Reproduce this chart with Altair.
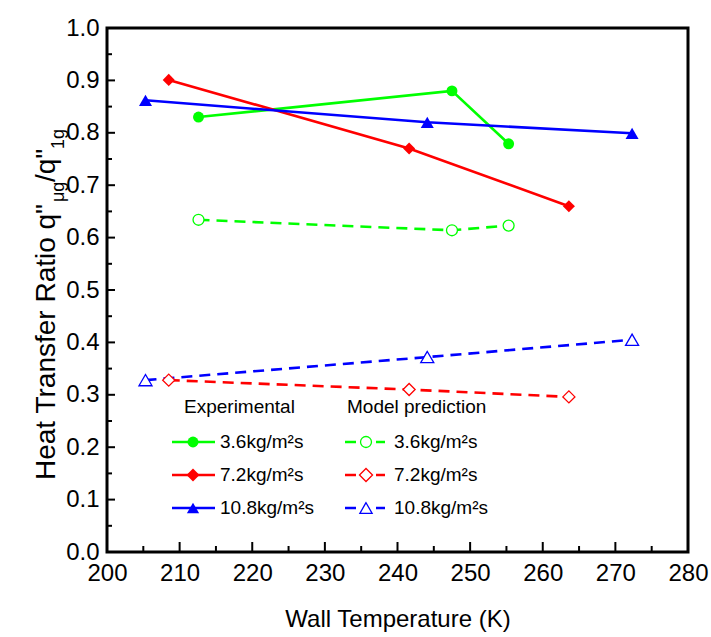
import altair as alt
import pandas as pd

# ---------------- data ----------------
series_names = ["3.6kg/m²s", "7.2kg/m²s", "10.8kg/m²s"]
series_colors = ["#00FF00", "#FF0000", "#0000FF"]
series_shapes = ["circle", "diamond", "triangle-up"]
series_sizes = [120, 170, 150]

temp_36 = [212.6, 247.5, 255.3]
temp_72 = [208.5, 241.6, 263.6]
temp_108 = [205.3, 244.1, 272.3]

exp_36 = [0.830, 0.880, 0.779]
exp_72 = [0.901, 0.770, 0.660]
exp_108 = [0.862, 0.820, 0.799]

mod_36 = [0.634, 0.614, 0.623]
mod_72 = [0.328, 0.310, 0.296]
mod_108 = [0.328, 0.372, 0.405]

x_ticks = [200, 210, 220, 230, 240, 250, 260, 270, 280]
x_minor = [205, 215, 225, 235, 245, 255, 265, 275]
y_ticks = [0.0, 0.1, 0.2, 0.3, 0.4, 0.5, 0.6, 0.7, 0.8, 0.9, 1.0]
y_minor = [0.05, 0.15, 0.25, 0.35, 0.45, 0.55, 0.65, 0.75, 0.85, 0.95]

rows = []
for name, temps, e, m in [
    (series_names[0], temp_36, exp_36, mod_36),
    (series_names[1], temp_72, exp_72, mod_72),
    (series_names[2], temp_108, exp_108, mod_108),
]:
    for t, ev, mv in zip(temps, e, m):
        rows.append({"series": name, "kind": "exp", "T": t, "R": ev})
        rows.append({"series": name, "kind": "mod", "T": t, "R": mv})
df = pd.DataFrame(rows)

FONT = "Liberation Sans, Arial, sans-serif"
W, H = 581, 524
PL, PT = 107, 28

x_scale = alt.Scale(domain=[200, 280], nice=False, zero=False)
y_scale = alt.Scale(domain=[0, 1], nice=False, zero=False)
color_scale = alt.Scale(domain=series_names, range=series_colors)
shape_scale = alt.Scale(domain=series_names, range=series_shapes)
size_scale = alt.Scale(domain=series_names, range=series_sizes)

x_axis = alt.Axis(values=x_ticks, format="d", title="Wall Temperature (K)",
                  titleFont=FONT, titleFontSize=24, titleFontWeight="normal",
                  titleColor="black", titlePadding=22,
                  labelFont=FONT, labelFontSize=24, labelColor="black",
                  labelPadding=9, labelFlush=False, ticks=False, tickSize=0,
                  domain=False, grid=False)
y_axis = alt.Axis(values=y_ticks, format=".1f", title=None,
                  labelFont=FONT, labelFontSize=24, labelColor="black",
                  labelPadding=8, labelFlush=False, ticks=False, tickSize=0,
                  domain=False, grid=False)

x_enc = alt.X("T:Q", scale=x_scale, axis=x_axis)
y_enc = alt.Y("R:Q", scale=y_scale, axis=y_axis)
color_enc = alt.Color("series:N", scale=color_scale, legend=None)
shape_enc = alt.Shape("series:N", scale=shape_scale, legend=None)
size_enc = alt.Size("series:N", scale=size_scale, legend=None)

base = alt.Chart(df)
exp_lines = base.transform_filter(alt.datum.kind == "exp").mark_line(strokeWidth=2.6).encode(
    x=x_enc, y=y_enc, color=color_enc, detail="series:N")
mod_lines = base.transform_filter(alt.datum.kind == "mod").mark_line(
    strokeWidth=2.6, strokeDash=[11, 7]).encode(
    x=x_enc, y=y_enc, color=color_enc, detail="series:N")
exp_pts = base.transform_filter(alt.datum.kind == "exp").mark_point(
    filled=True, opacity=1, strokeWidth=0).encode(
    x=x_enc, y=y_enc, color=color_enc, shape=shape_enc, size=size_enc)
mod_pts = base.transform_filter(alt.datum.kind == "mod").mark_point(
    filled=False, fill="white", fillOpacity=1, opacity=1, strokeWidth=1.3).encode(
    x=x_enc, y=y_enc, color=color_enc, shape=shape_enc, size=size_enc)

# inward ticks
def yticks(vals, length):
    return alt.Chart(pd.DataFrame({"R": vals})).mark_rule(color="black", strokeWidth=2).encode(
        y=y_enc, x=alt.value(0), x2=alt.value(length))

def xticks(vals, length):
    return alt.Chart(pd.DataFrame({"T": vals})).mark_rule(color="black", strokeWidth=2).encode(
        x=x_enc, y=alt.value(H), y2=alt.value(H - length))

tick_layers = [yticks(y_ticks[1:-1], 8), yticks(y_minor, 5), xticks(x_ticks[1:-1], 10), xticks(x_minor, 6)]

# legend (annotation)
legend_layers = []
one = pd.DataFrame({"a": [0]})
hdr = [("Experimental", 184), ("Model prediction", 347)]
for txt, px in hdr:
    legend_layers.append(alt.Chart(one).mark_text(
        text=txt, font=FONT, fontSize=19, align="left", baseline="middle", color="black").encode(
        x=alt.value(px - PL), y=alt.value(407 - PT)))
row_y = [442, 475, 508]
for i, name in enumerate(series_names):
    ry = row_y[i] - PT
    c = series_colors[i]
    # experimental column
    legend_layers.append(alt.Chart(one).mark_rule(color=c, strokeWidth=2.5).encode(
        x=alt.value(172 - PL), x2=alt.value(215 - PL), y=alt.value(ry)))
    legend_layers.append(alt.Chart(one).mark_point(
        filled=True, color=c, opacity=1, strokeWidth=0, shape=series_shapes[i],
        size=series_sizes[i]).encode(x=alt.value(193 - PL), y=alt.value(ry)))
    legend_layers.append(alt.Chart(one).mark_text(
        text=name, font=FONT, fontSize=19, align="left", baseline="middle", color="black").encode(
        x=alt.value(220 - PL), y=alt.value(ry)))
    # model column
    legend_layers.append(alt.Chart(one).mark_rule(color=c, strokeWidth=2.5).encode(
        x=alt.value(345 - PL), x2=alt.value(356 - PL), y=alt.value(ry)))
    legend_layers.append(alt.Chart(one).mark_rule(color=c, strokeWidth=2.5).encode(
        x=alt.value(376 - PL), x2=alt.value(385 - PL), y=alt.value(ry)))
    legend_layers.append(alt.Chart(one).mark_point(
        filled=False, fill="white", fillOpacity=1, color=c, opacity=1, strokeWidth=1.3,
        shape=series_shapes[i], size=series_sizes[i]).encode(
        x=alt.value(366 - PL), y=alt.value(ry)))
    legend_layers.append(alt.Chart(one).mark_text(
        text=name, font=FONT, fontSize=19, align="left", baseline="middle", color="black").encode(
        x=alt.value(394 - PL), y=alt.value(ry)))

# y-axis title with subscripts
title_parts = [
    ("Heat Transfer Ratio q\"", 28, 55, 480),
    ("μg", 18, 64, 202),
    ("/q\"", 28, 55, 182),
    ("1g", 18, 64, 149),
]
for txt, fs, px, py in title_parts:
    legend_layers.append(alt.Chart(one).mark_text(
        text=txt, font=FONT, fontSize=fs, align="left", baseline="alphabetic",
        angle=270, color="black").encode(x=alt.value(px - PL), y=alt.value(py - PT)))

chart = alt.layer(
    exp_lines, mod_lines, exp_pts, mod_pts, *tick_layers, *legend_layers
).properties(
    width=W, height=H,
    padding={"left": PL, "top": PT, "right": 711 - PL - W, "bottom": 637 - PT - H},
    autosize=alt.AutoSizeParams(type="none"),
    background="white",
).configure_view(stroke="black", strokeWidth=3)

chart.save("out.html", embed_options={"renderer": "svg", "actions": False})
